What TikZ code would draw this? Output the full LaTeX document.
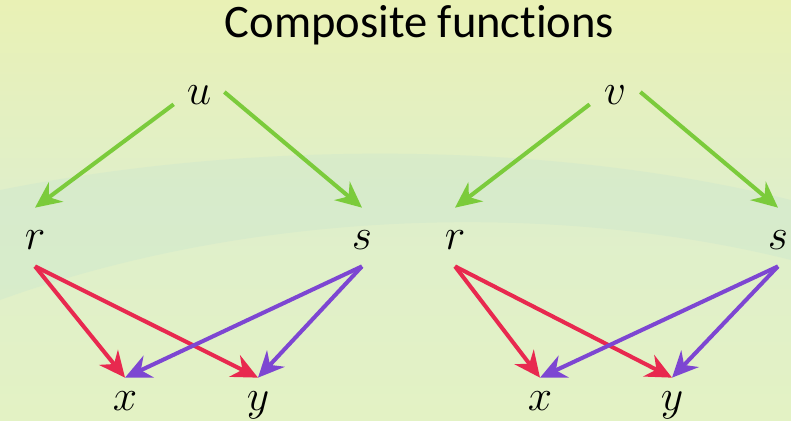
\documentclass[tikz,border=0pt]{standalone}
\usepackage{fontspec}
\setmainfont{Carlito}[Ligatures=NoCommon]
\usepackage{tikz}
\usetikzlibrary{arrows.meta}
\definecolor{cverde}{HTML}{7BCB3B}
\definecolor{crojo}{HTML}{E8294F}
\definecolor{cmorado}{HTML}{7D46D2}
\definecolor{fondoa}{HTML}{E9F1B5}
\definecolor{fondob}{HTML}{DFEFCB}
\definecolor{fondoc}{HTML}{E3F2C4}
\definecolor{franja}{HTML}{C9E6CF}
\tikzset{
  var/.style={inner sep=0pt, minimum width=1cm, minimum height=0.3cm,
    text height=0.48cm, text depth=0pt, font=\fontsize{32}{32}\selectfont},
  varm/.style={var, minimum height=1.16cm},
  vari/.style={var, minimum height=0.8cm},
  titulo/.style={anchor=base, font=\fontsize{26.5}{30}\selectfont},
  flecha/.style={-{Stealth[length=5.2mm,width=4.8mm,inset=1.7mm]}, line width=2.3pt},
  flechav/.style={flecha, draw=cverde, color=cverde},
  flechar/.style={flecha, draw=crojo, color=crojo},
  flechap/.style={flecha, draw=cmorado, color=cmorado},
}
\begin{document}
\begin{tikzpicture}[x=0.02cm, y=-0.02cm]
  % fondo
  \shade[top color=fondoa, bottom color=fondoc, middle color=fondob] (0,0) rectangle (791,420);
  \fill[franja, opacity=0.35] (0,190) .. controls (250,140) and (550,140) .. (791,200)
    -- (791,260) .. controls (550,200) and (250,210) .. (0,300) -- cycle;
  \useasboundingbox (0,0) rectangle (791,420);

  \node[titulo] (tit) at (419.5,37) {Composite functions};

  % arbol de u
  \node[var] (u) at (199,92) {$u$};
  \node[varm] (r1) at (35,237) {$r$};
  \node[varm] (s1) at (362,237) {$s$};
  \node[vari] (x1) at (125,398) {$x$};
  \node[vari] (y1) at (258,398) {$y$};
  \draw[flechav] (u.south west)--(r1.north); \draw[flechav] (u.east)--(s1.north);
  \draw[flechar] (r1.south)--(x1.north); \draw[flechar] (r1.south)--(y1.north);
  \draw[flechap] (s1.south)--(x1.north); \draw[flechap] (s1.south)--(y1.north);

  % arbol de v
  \node[var] (v) at (615,92) {$v$};
  \node[varm] (r2) at (455,237) {$r$};
  \node[varm] (s2) at (778,237) {$s$};
  \node[vari] (x2) at (540,398) {$x$};
  \node[vari] (y2) at (672,398) {$y$};
  \draw[flechav] (v.south west)--(r2.north); \draw[flechav] (v.east)--(s2.north);
  \draw[flechar] (r2.south)--(x2.north); \draw[flechar] (r2.south)--(y2.north);
  \draw[flechap] (s2.south)--(x2.north); \draw[flechap] (s2.south)--(y2.north);
\end{tikzpicture}
\end{document}
